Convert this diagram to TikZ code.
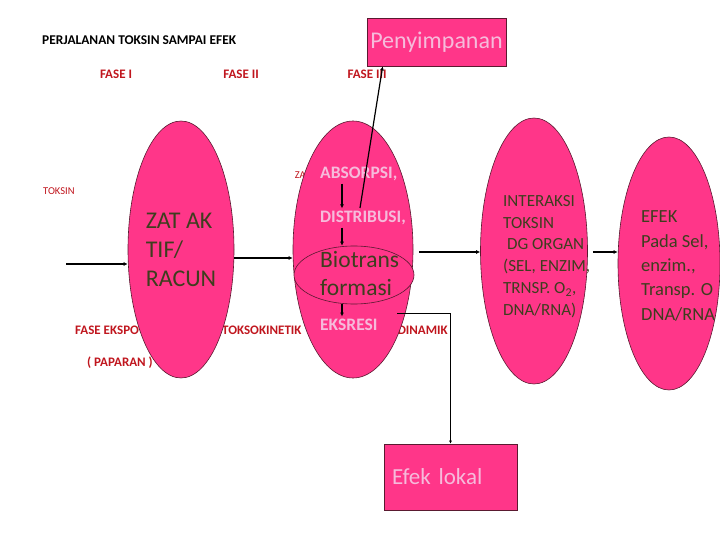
\documentclass[tikz,border=0pt]{standalone}
\usepackage{fontspec}
\setmainfont{Carlito}
\usetikzlibrary{shapes.geometric, positioning, arrows.meta, calc}
\definecolor{hotpink}{HTML}{FF3689}
\definecolor{rim}{HTML}{5A1A30}
\definecolor{softpink}{HTML}{F6BBDB}
\definecolor{olive}{HTML}{3E3E1E}
\definecolor{faseRed}{HTML}{C0161E}
\tikzset{
    phase/.style = {ellipse, draw = rim, fill = hotpink, line width = 0.6pt, inner sep = 0pt},
    box/.style = {rectangle, draw = rim, fill = hotpink, line width = 0.8pt, text = softpink},
    redlabel/.style = {text = faseRed, font = \fontsize{13}{15}\selectfont\bfseries, inner sep = 0pt},
    thinred/.style = {text = faseRed, font = \fontsize{10.5}{12}\selectfont, inner sep = 0pt},
    pinklabel/.style = {text = softpink, font = \fontsize{17.5}{20}\selectfont\bfseries, inner sep = 2.5pt},
    darktext/.style = {text = olive, align = left, inner sep = 0pt},
    flow/.style = {draw, -{Latex[length = 4pt, width = 4pt]}, line width = 1.2pt},
}

\begin{document}
\begin{tikzpicture}[x = 1pt, y = -1pt]
    \useasboundingbox (0, 0) rectangle (720, 540);

    \node[anchor = west, inner sep = 0pt, font = \fontsize{13.4}{15}\selectfont\bfseries] (title) at (42, 40) {PERJALANAN TOKSIN SAMPAI EFEK};

    \node[redlabel] (fase1) at (116, 74) {FASE I};
    \node[redlabel] (fase2) at (241, 74) {FASE II};
    \node[redlabel] (fase3) at (367, 74) {FASE III};

    \node[thinred, anchor = west] (toksin) at (43, 191) {TOKSIN};
    \node[thinred, anchor = east] (za) at (306, 175) {ZA};
    \node[redlabel, anchor = west] (ekspo) at (75, 330) {FASE EKSPO};
    \node[redlabel, anchor = west] (kinetik) at (222, 330) {TOKSOKINETIK};
    \node[redlabel, anchor = east] (dinamik) at (448, 330) {DINAMIK};
    \node[redlabel, anchor = west] (paparan) at (87, 363) {( PAPARAN )};

    \node[box, minimum width = 139pt, minimum height = 48pt, font = \fontsize{24}{27}\selectfont] (store) at (436.5, 42) {Penyimpanan};
    \node[box, minimum width = 133pt, minimum height = 66pt, text width = 117pt, align = left, font = \fontsize{23}{26}\selectfont] (lokal) at (450.5, 477) {Efek lokal};

    \node[phase, minimum width = 106pt, minimum height = 257pt, text = olive, align = left, font = \fontsize{24}{29}\selectfont] (zat) at (181, 249.5) {ZAT AK\\TIF/\\RACUN};
    \node[phase, minimum width = 120pt, minimum height = 257pt] (toxo) at (353, 249.5) {};
    \node[phase, minimum width = 107pt, minimum height = 266pt] (organ) at (534, 251) {};
    \node[phase, minimum width = 102pt, minimum height = 253pt] (efek) at (669, 263.5) {};
    \node[phase, minimum width = 120pt, minimum height = 58pt] (bio) at (354, 275) {};

    \node[pinklabel, anchor = west] (absorpsi) at (317.5, 174) {ABSORPSI,};
    \node[pinklabel, anchor = west] (distribusi) at (317.5, 218) {DISTRIBUSI,};
    \node[darktext, anchor = west, font = \fontsize{23.5}{28}\selectfont] (biotext) at (320, 274) {Biotrans\\formasi};
    \node[pinklabel, anchor = west] (eksresi) at (317.5, 325) {EKSRESI};

    \node[darktext, anchor = west, font = \fontsize{17}{21.8}\selectfont] (interaksi) at (503, 256.5) {INTERAKSI\\TOKSIN\\\hspace{4pt}DG ORGAN\\(SEL, ENZIM,\\TRNSP. O\textsubscript{2},\\DNA/RNA)};
    \node[darktext, anchor = west, font = \fontsize{18.5}{24.4}\selectfont] (efektext) at (641, 266) {EFEK\\Pada Sel,\\enzim.,\\Transp. O\\DNA/RNA};

    \coordinate (toksinstart) at (66, 264);
    \coordinate (storefrom) at (360, 208);
    \coordinate (lokalfrom) at (397, 313);

    \draw[flow] (toksinstart) -- (toksinstart -| zat.west);
    \draw[flow] (zat.east |- 0, 258) -- (toxo.west |- 0, 258);
    \draw[flow, shorten <= 6pt] (toxo.east |- 0, 252) -- (organ.west |- 0, 252);
    \draw[flow, shorten <= 5pt] (organ.east |- 0, 252) -- (efek.west |- 0, 252);

    \draw[flow] (absorpsi.south -| 342, 0) -- (distribusi.north -| 342, 0);
    \draw[flow] (distribusi.south -| 342, 0) -- (bio.north -| 342, 0);
    \draw[flow] (bio.south -| 342, 0) -- (eksresi.north -| 342, 0);

    \draw[flow] (storefrom) -- ($(store.south west)!0.115!(store.south east)$);
    \draw[draw, -{Latex[length = 3pt, width = 3pt]}, line width = 1pt] (lokalfrom) -| (lokal.north);
\end{tikzpicture}
\end{document}
